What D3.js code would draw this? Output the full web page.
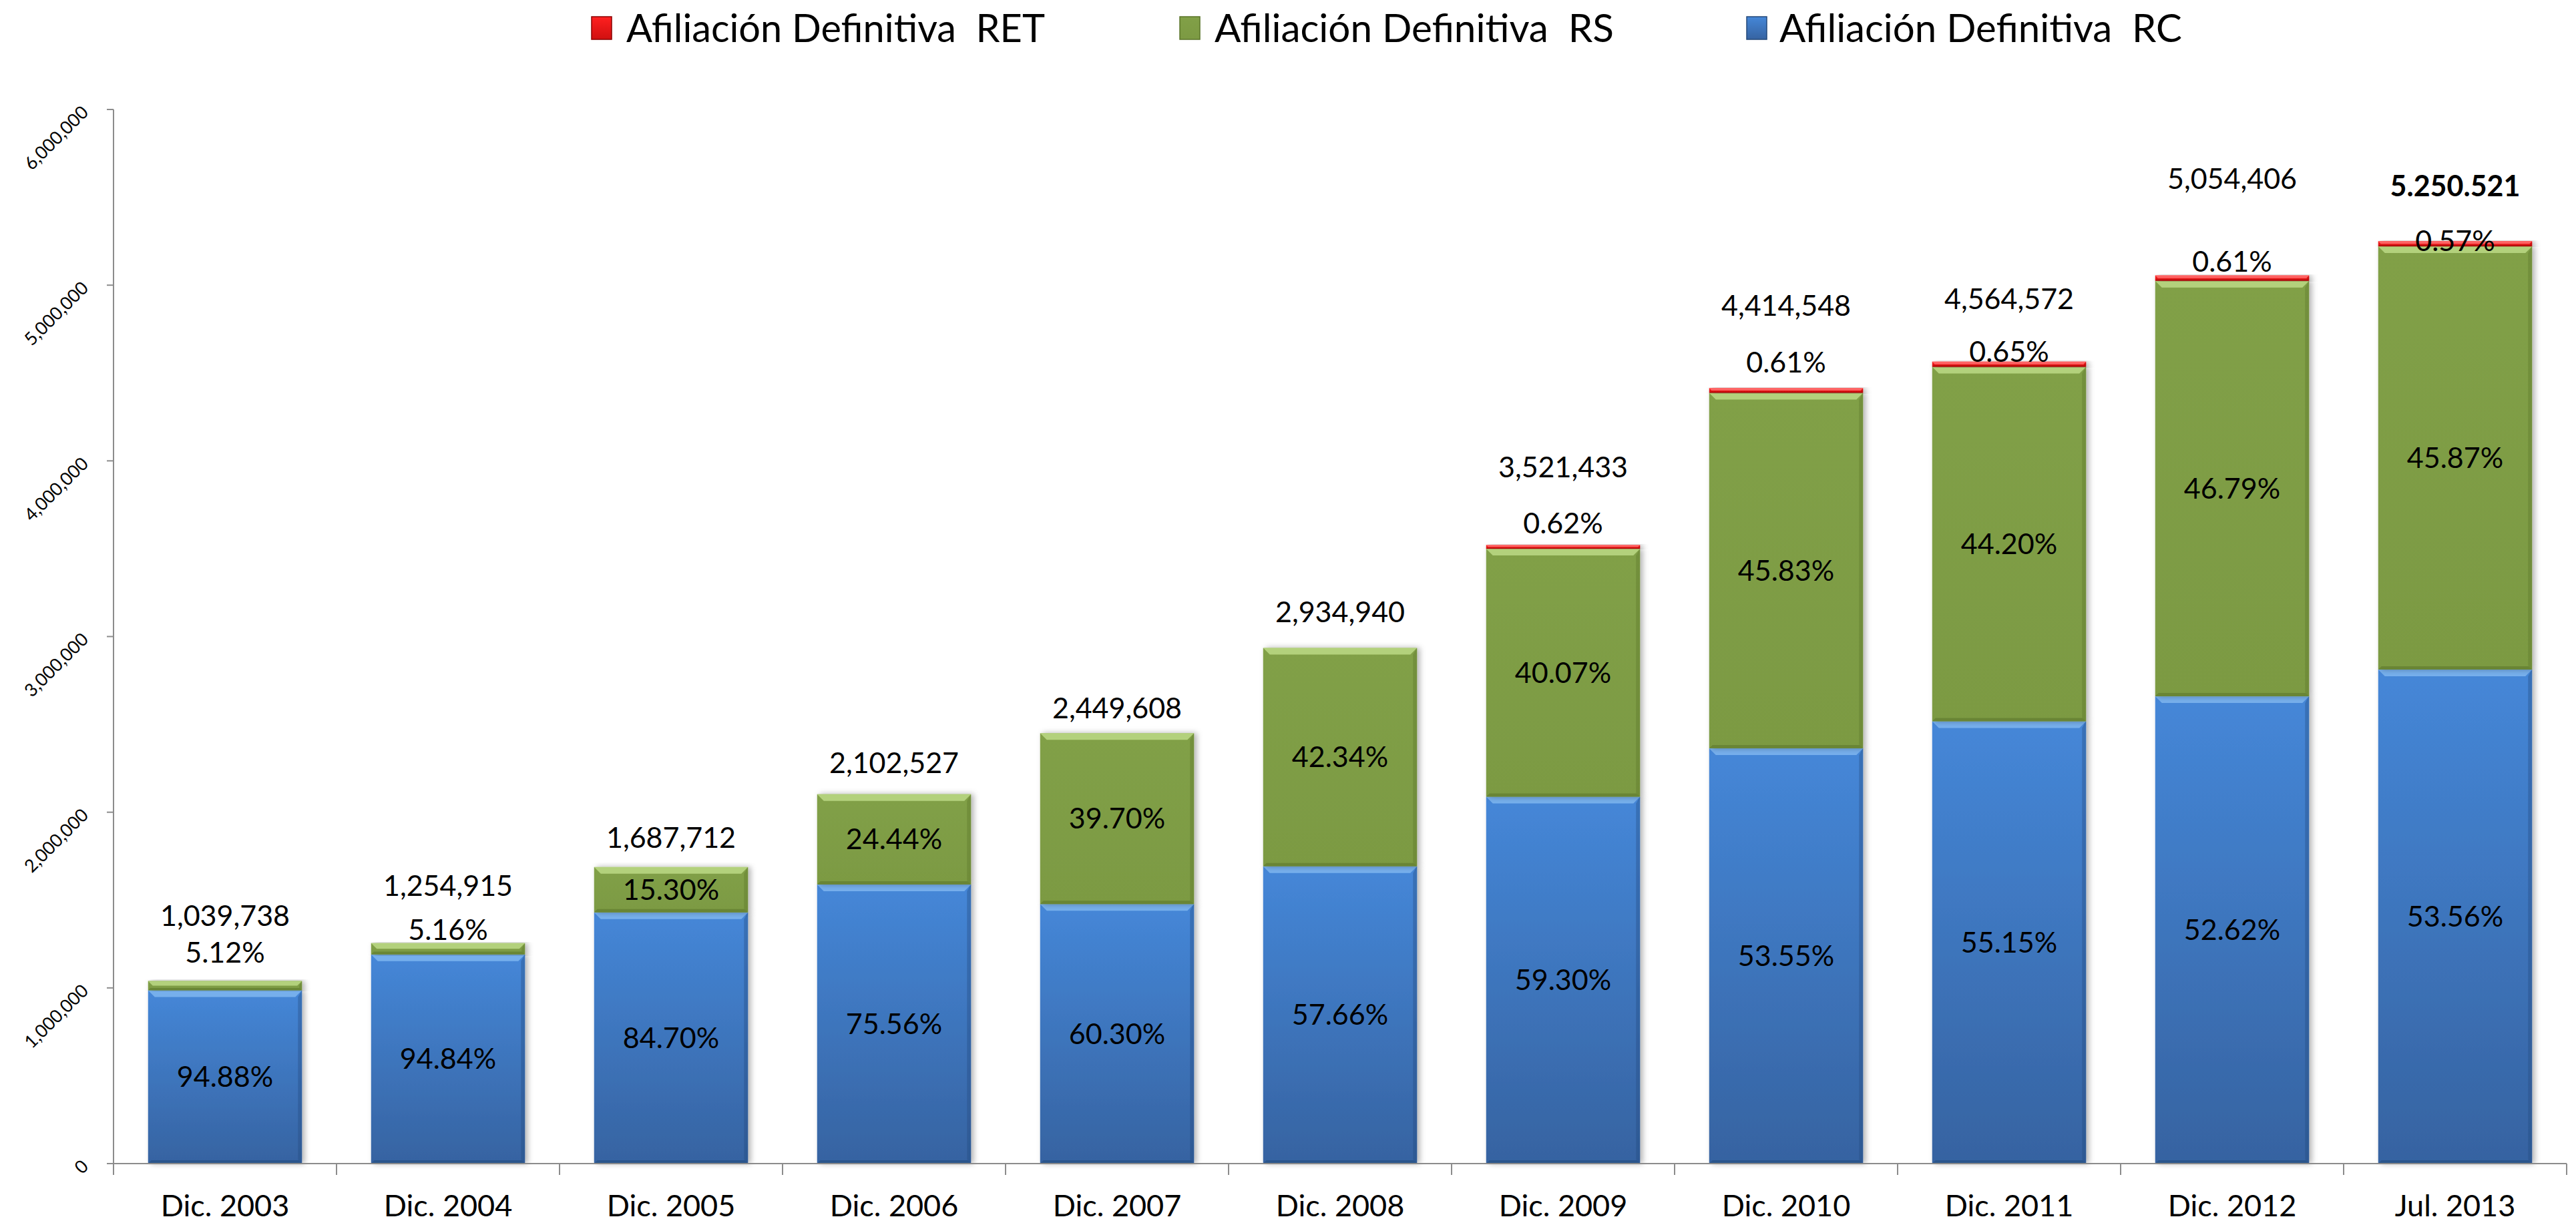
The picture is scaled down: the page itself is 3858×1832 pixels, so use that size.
<!DOCTYPE html>
<meta charset="utf-8">
<script src="https://d3js.org/d3.v7.min.js"></script>
<style>
  body { margin: 0; background: #fff; }
  text { font-family: Lato, "Noto Sans", sans-serif; fill: #000; }
</style>
<div id="chart"></div>
<script>

// ---- data ----
var categories = ["Dic. 2003", "Dic. 2004", "Dic. 2005", "Dic. 2006", "Dic. 2007", "Dic. 2008",
                  "Dic. 2009", "Dic. 2010", "Dic. 2011", "Dic. 2012", "Jul. 2013"];
var rcValues  = [986503, 1190161, 1429492, 1588669, 1477114, 1692286, 2088210, 2363990, 2517361, 2659628, 2812179];
var rsValues  = [53235, 64754, 258220, 513858, 972494, 1242654, 1411038, 2023187, 2017541, 2364957, 2408414];
var retValues = [0, 0, 0, 0, 0, 0, 21833, 26929, 29670, 30832, 29928];
var rcPct  = ["94.88%", "94.84%", "84.70%", "75.56%", "60.30%", "57.66%", "59.30%", "53.55%", "55.15%", "52.62%", "53.56%"];
var rsPct  = ["5.12%", "5.16%", "15.30%", "24.44%", "39.70%", "42.34%", "40.07%", "45.83%", "44.20%", "46.79%", "45.87%"];
var retPct = ["", "", "", "", "", "", "0.62%", "0.61%", "0.65%", "0.61%", "0.57%"];
var totalLabels = ["1,039,738", "1,254,915", "1,687,712", "2,102,527", "2,449,608", "2,934,940",
                   "3,521,433", "4,414,548", "4,564,572", "5,054,406", "5.250.521"];
var yTicks = [0, 1000000, 2000000, 3000000, 4000000, 5000000, 6000000];

// label nudges above the bar top (pixels), as placed in the original
var smallLabelOff = [-42, -20, 0, 0, 0, 0, -32, -38, -15, -21, 0];
var totalLabelOff = [-97, -86, -44, -47, -37, -54, -116, -123, -94, -145, -82];

var W = 3858, H = 1832;
var x0 = 170, x1 = 3844, yTop = 164, yZero = 1743;

var svg = d3.select("#chart").append("svg")
    .attr("width", W).attr("height", H);

var defs = svg.append("defs");
var gBlue = defs.append("linearGradient").attr("id", "gBlue")
    .attr("x1", 0).attr("y1", 0).attr("x2", 0).attr("y2", 1);
gBlue.append("stop").attr("offset", "0%").attr("stop-color", "#4587d8");
gBlue.append("stop").attr("offset", "100%").attr("stop-color", "#3663a1");
var gGreen = defs.append("linearGradient").attr("id", "gGreen")
    .attr("x1", 0).attr("y1", 0).attr("x2", 0).attr("y2", 1);
gGreen.append("stop").attr("offset", "0%").attr("stop-color", "#81a047");
gGreen.append("stop").attr("offset", "100%").attr("stop-color", "#7c9a43");
var gRed = defs.append("linearGradient").attr("id", "gRed")
    .attr("x1", 0).attr("y1", 0).attr("x2", 0).attr("y2", 1);
gRed.append("stop").attr("offset", "0%").attr("stop-color", "#ff2020");
gRed.append("stop").attr("offset", "100%").attr("stop-color", "#d01010");

var shadow = defs.append("filter").attr("id", "shadow")
    .attr("x", "-10%").attr("y", "-10%").attr("width", "120%").attr("height", "120%");
shadow.append("feDropShadow").attr("dx", 4).attr("dy", 0).attr("stdDeviation", 4)
    .attr("flood-color", "#000").attr("flood-opacity", 0.3);

var series = [
  {key: "RC",  fill: "url(#gBlue)",  light: "#7fb6f0", dark: "#23487a", pct: rcPct},
  {key: "RS",  fill: "url(#gGreen)", light: "#bcd986", dark: "#5a7428", pct: rsPct},
  {key: "RET", fill: "url(#gRed)",   light: "#ff7070", dark: "#8a0000", pct: retPct}
];

var table = categories.map(function(c, i) {
  return {cat: c, RC: rcValues[i], RS: rsValues[i], RET: retValues[i], i: i};
});
var stacked = d3.stack().keys(["RC", "RS", "RET"])(table);

var x = d3.scaleBand().domain(categories).range([x0, x1])
    .paddingInner(0.31).paddingOuter(0.155);
var y = d3.scaleLinear().domain([0, 6000000]).range([yZero, yTop]);

// ---- axes ----
var axisColor = "#8c8c8c";
svg.append("line").attr("x1", x0).attr("x2", x0).attr("y1", yTop).attr("y2", yZero + 17)
    .attr("stroke", axisColor).attr("stroke-width", 2);
svg.selectAll(".ytick").data(yTicks).enter().append("line")
    .attr("x1", x0 - 10).attr("x2", x0)
    .attr("y1", function(d) { return y(d); }).attr("y2", function(d) { return y(d); })
    .attr("stroke", axisColor).attr("stroke-width", 2);
svg.selectAll(".ylab").data(yTicks).enter().append("text")
    .attr("transform", function(d) { return "translate(" + (x0 - 36) + "," + (y(d) + 6) + ") rotate(-45)"; })
    .attr("text-anchor", "end")
    .style("font-size", "27px")
    .text(function(d) { return d3.format(",")(d); });

var bars = svg.append("g");

stacked.forEach(function(layer, si) {
  var s = series[si];
  layer.forEach(function(d, i) {
    if (d[1] - d[0] <= 0) return;
    var bx0 = x(categories[i]), bx1 = bx0 + x.bandwidth();
    var top = y(d[1]), bot = y(d[0]);
    var h = bot - top;
    var b = Math.min(10, h / 2);
    var g = bars.append("g").attr("filter", "url(#shadow)");
    g.append("rect").attr("x", bx0).attr("y", top).attr("width", bx1 - bx0).attr("height", h)
        .attr("fill", s.fill);
    // bevel strips
    g.append("path").attr("d", d3.line()([[bx0, top], [bx1, top], [bx1 - b, top + b], [bx0 + b, top + b]]))
        .attr("fill", s.light).attr("opacity", 0.85);
    g.append("path").attr("d", d3.line()([[bx1, top], [bx1, bot], [bx1 - b * 0.6, bot - b * 0.6], [bx1 - b * 0.6, top + b]]))
        .attr("fill", s.dark).attr("opacity", 0.35);
    g.append("path").attr("d", d3.line()([[bx0, bot], [bx1, bot], [bx1 - b * 0.5, bot - b * 0.5], [bx0 + b * 0.5, bot - b * 0.5]]))
        .attr("fill", s.dark).attr("opacity", 0.55);
  });
});

svg.append("line").attr("x1", x0).attr("x2", x1).attr("y1", yZero).attr("y2", yZero)
    .attr("stroke", axisColor).attr("stroke-width", 2);
var bounds = categories.map(function(c) { return x(c) - x.step() * x.paddingInner() / 2 + x.step(); });
svg.selectAll(".xtick").data(bounds).enter().append("line")
    .attr("x1", function(d) { return d; }).attr("x2", function(d) { return d; })
    .attr("y1", yZero).attr("y2", yZero + 17)
    .attr("stroke", axisColor).attr("stroke-width", 2);
svg.selectAll(".xlab").data(categories).enter().append("text")
    .attr("x", function(d) { return x(d) + x.bandwidth() / 2; })
    .attr("y", 1822)
    .attr("text-anchor", "middle")
    .style("font-size", "45px")
    .text(function(d) { return d; });

// ---- value labels ----
var labels = svg.append("g").attr("text-anchor", "middle").style("font-size", "43px");
stacked.forEach(function(layer, si) {
  var s = series[si];
  layer.forEach(function(d, i) {
    if (!s.pct[i]) return;
    var cx = x(categories[i]) + x.bandwidth() / 2;
    var top = y(d[1]), bot = y(d[0]);
    var cy;
    if (bot - top > 60) cy = (top + bot) / 2;
    else cy = y(d[1]) + smallLabelOff[i];
    labels.append("text").attr("x", cx).attr("y", cy).attr("dy", "0.35em").text(s.pct[i]);
  });
});
var lastLayer = stacked[stacked.length - 1];
labels.selectAll(".tot").data(totalLabels).enter().append("text")
    .attr("x", function(d, i) { return x(categories[i]) + x.bandwidth() / 2; })
    .attr("y", function(d, i) { return y(lastLayer[i][1]) + totalLabelOff[i]; })
    .attr("dy", "0.35em")
    .style("font-weight", function(d, i) { return i === totalLabels.length - 1 ? "bold" : "normal"; })
    .text(function(d) { return d; });

// ---- legend ----
var legendItems = [
  {name: "Afiliación Definitiva  RET", s: series[2], sx: 886, tx: 938, len: 627},
  {name: "Afiliación Definitiva  RS",  s: series[1], sx: 1767, tx: 1819, len: 598},
  {name: "Afiliación Definitiva  RC",  s: series[0], sx: 2616, tx: 2665, len: 603}
];
var legend = svg.append("g");
legendItems.forEach(function(it) {
  legend.append("rect").attr("x", it.sx).attr("y", 25).attr("width", 30).attr("height", 34)
      .attr("fill", it.s.fill).attr("stroke", it.s.dark).attr("stroke-width", 1.5);
  legend.append("text").attr("x", it.tx).attr("y", 63)
      .style("font-size", "58px")
      .attr("textLength", it.len).attr("lengthAdjust", "spacingAndGlyphs")
      .style("white-space", "pre")
      .text(it.name);
});

</script>
